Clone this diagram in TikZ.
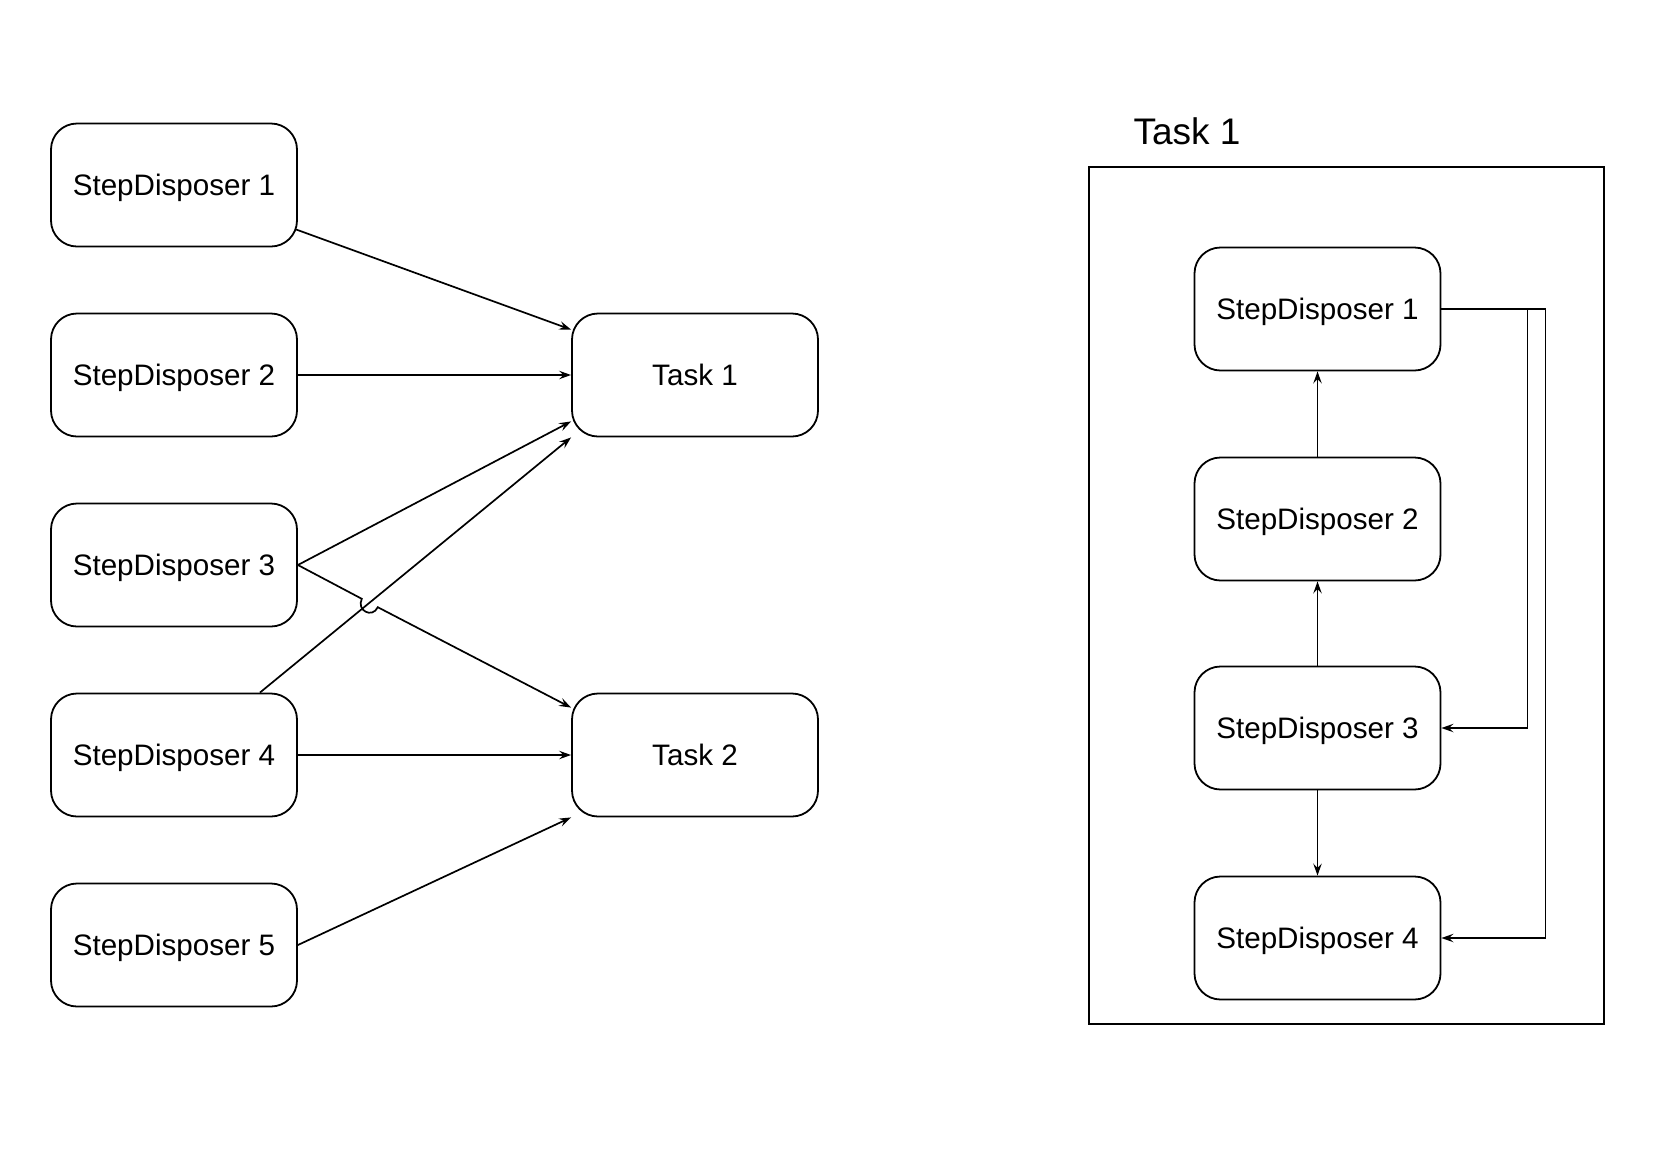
\documentclass[tikz,border=0pt]{standalone}
\usepackage{fontspec}
\setmainfont{Liberation Sans}
\usetikzlibrary{arrows.meta,calc}
\begin{document}
\begin{tikzpicture}[x=0.5pt,y=-0.5pt,
  box/.style={draw,line width=0.9pt,rounded corners=13pt,minimum width=123pt,minimum height=61.5pt,inner sep=0pt,text height=13.6pt,text depth=3pt,font=\fontsize{14.8}{17}\selectfont},
  conn/.style={line width=0.85pt,-{Stealth[length=6pt,width=4.2pt,inset=2.2pt]}},
  plain/.style={line width=0.85pt}]
\useasboundingbox (0,0) rectangle (1680,1168);
% left side
\node[box] (l1) at (174,185) {StepDisposer 1};
\node[box] (l2) at (174,375) {StepDisposer 2};
\node[box] (l3) at (174,565) {StepDisposer 3};
\node[box] (l4) at (174,755) {StepDisposer 4};
\node[box] (l5) at (174,945) {StepDisposer 5};
\node[box] (t1) at (695,375) {Task 1};
\node[box] (t2) at (695,755) {Task 2};
\draw[conn] ($(l1.south east)+(-2,-18)$) -- ($(t1.north west)+(0,17)$);
\draw[conn] (l2.east) -- (t1.west);
\draw[conn] (l3.east) -- ($(t1.south west)+(0,-16)$);
\draw[conn] ($(l4.north east)+(-38,0)$) -- (t1.south west);
\coordinate (jb) at (361.8,598.8);
\coordinate (ja) at (377.8,607.2);
\draw[conn] (l3.east) -- (jb) .. controls (356.2,610.4) and (372.2,618.8) .. (ja) -- ($(t2.north west)+(0,15)$);
\draw[conn] (l4.east) -- (t2.west);
\draw[conn] (l5.east) -- (t2.south west);
% right side
\node[font=\fontsize{18.5}{21}\selectfont] (title) at (1187,131) {Task 1};
\node[draw,line width=0.85pt,minimum width=257.5pt,minimum height=428.5pt,inner sep=0pt] (frame) at (1346.5,595.5) {};
\node[box] (r1) at (1317.5,309) {StepDisposer 1};
\node[box] (r2) at (1317.5,519) {StepDisposer 2};
\node[box] (r3) at (1317.5,728) {StepDisposer 3};
\node[box] (r4) at (1317.5,938) {StepDisposer 4};
\draw[conn] (r2.north) -- (r1.south);
\draw[conn] (r3.north) -- (r2.south);
\draw[conn] (r3.south) -- (r4.north);
\draw[conn] (r1.east) -- ++(86,0) |- (r3.east);
\draw[conn] (r1.east) -- ++(104,0) |- (r4.east);
\end{tikzpicture}
\end{document}
